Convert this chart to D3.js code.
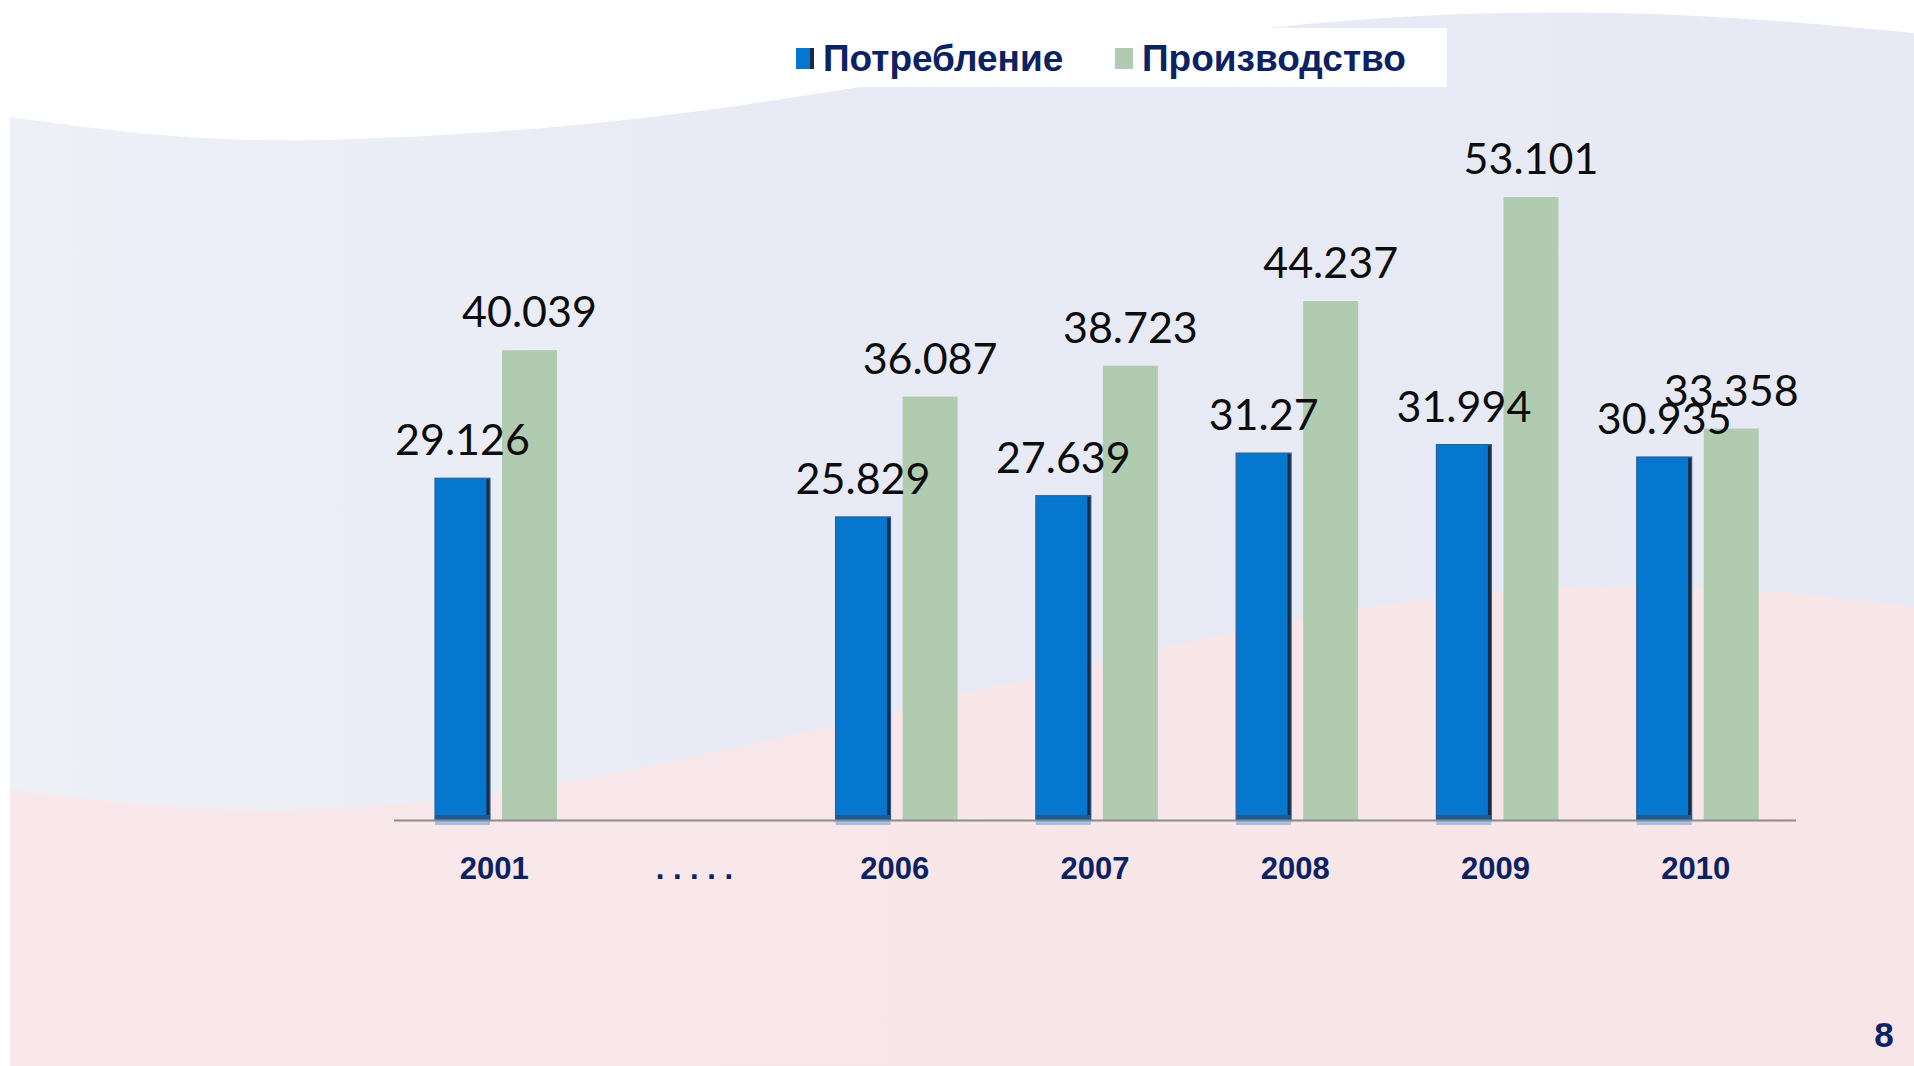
<!DOCTYPE html>
<html>
<head>
<meta charset="utf-8">
<script src="https://cdn.jsdelivr.net/npm/d3@7"></script>
<style>
  html, body { margin: 0; padding: 0; background: #ffffff; }
  svg { display: block; }
</style>
</head>
<body>
<div id="chart"></div>
<script>
// Data
const categories = ["2001", ". . . . .", "2006", "2007", "2008", "2009", "2010"];
const years = ["2001", "2006", "2007", "2008", "2009", "2010"];
const consumption = [29.126, 25.829, 27.639, 31.27, 31.994, 30.935];
const production = [40.039, 36.087, 38.723, 44.237, 53.101, 33.358];
const seriesNames = ["Потребление", "Производство"];
const pageNumber = "8";

const drawChart = () => {

  /*******************************/
  /*    Declare the constants    */
  /*******************************/
  const width = 1914;
  const height = 1066;
  const margin = {left: 394, right: 118, top: 116, bottom: 246};
  const baseline = height - margin.bottom;
  const blue = "#0677cf";
  const green = "#b0cbb0";
  const navy = "#0c2262";

  const svg = d3.select("#chart")
    .append("svg")
      .attr("width", width)
      .attr("height", height)
      .attr("viewBox", `0 0 ${width} ${height}`);

  /*******************************/
  /*    Decorative background    */
  /*******************************/
  const defs = svg.append("defs");
  const gradLav = defs.append("linearGradient").attr("id", "lav");
  gradLav.append("stop").attr("offset", "0%").attr("stop-color", "#eef0f8");
  gradLav.append("stop").attr("offset", "40%").attr("stop-color", "#e8ebf5");
  gradLav.append("stop").attr("offset", "100%").attr("stop-color", "#e7eaf4");
  const gradPink = defs.append("linearGradient").attr("id", "pink");
  gradPink.append("stop").attr("offset", "0%").attr("stop-color", "#f9e8eb");
  gradPink.append("stop").attr("offset", "100%").attr("stop-color", "#f7e5e8");

  const wave = d3.line().curve(d3.curveBasis);
  const topEdge = [[10, 117], [150, 136], [305, 144], [610, 126], [855, 88],
                   [1099, 48], [1343, 18], [1526, 11], [1709, 14], [1914, 33]];
  const pinkEdge = [[10, 790], [244, 817], [488, 799], [733, 750], [977, 690],
                    [1221, 634], [1404, 598], [1624, 582], [1770, 590], [1914, 607]];

  svg.append("path")
    .attr("d", wave(topEdge) + `L${width},${height}L10,${height}Z`)
    .attr("fill", "url(#lav)");

  svg.append("path")
    .attr("d", wave(pinkEdge) + `L${width},${height}L10,${height}Z`)
    .attr("fill", "url(#pink)");

  /****************************/
  /*    Declare the scales    */
  /****************************/
  const xScale = d3.scaleBand()
    .domain(categories)
    .range([margin.left, width - margin.right]);

  const xInner = d3.scaleBand()
    .domain(seriesNames)
    .range([41, 163])
    .paddingInner(0.18);

  const yScale = d3.scaleLinear()
    .domain([0, 60])
    .range([baseline, margin.top]);

  const rows = years.map((year, i) => ({
    year: year,
    values: [
      {series: seriesNames[0], value: consumption[i]},
      {series: seriesNames[1], value: production[i]}
    ]
  }));

  /****************************/
  /*      Append the bars     */
  /****************************/
  const groups = svg.selectAll(".year-group")
    .data(rows)
    .join("g")
      .attr("class", "year-group")
      .attr("transform", d => `translate(${xScale(d.year)}, 0)`);

  // Production bars (flat green)
  groups.append("rect")
    .attr("x", xInner(seriesNames[1]))
    .attr("y", d => yScale(d.values[1].value))
    .attr("width", xInner.bandwidth())
    .attr("height", d => baseline - yScale(d.values[1].value))
    .attr("fill", green);

  // Consumption bars (blue with dark bevel)
  const bw = xInner.bandwidth();
  const bx = xInner(seriesNames[0]);
  groups.append("rect")
    .attr("x", bx)
    .attr("y", d => yScale(d.values[0].value))
    .attr("width", bw)
    .attr("height", d => baseline - yScale(d.values[0].value))
    .attr("fill", blue)
    .attr("stroke", "#2f5f92")
    .attr("stroke-width", 1.2);

  groups.append("rect")
    .attr("x", bx + bw - 3.5)
    .attr("y", d => yScale(d.values[0].value) + 1)
    .attr("width", 3)
    .attr("height", d => baseline - yScale(d.values[0].value) - 1)
    .attr("fill", "#1b2c42");

  groups.append("rect")
    .attr("x", bx + 0.6)
    .attr("y", baseline - 5)
    .attr("width", bw - 1.2)
    .attr("height", 5)
    .attr("fill", "#1d5a96");

  groups.append("rect")
    .attr("x", bx)
    .attr("y", baseline + 1)
    .attr("width", bw)
    .attr("height", 4)
    .attr("fill", "#8db8e3")
    .attr("opacity", 0.8);

  // Axis line
  svg.append("line")
    .attr("x1", margin.left)
    .attr("x2", width - margin.right)
    .attr("y1", baseline + 0.5)
    .attr("y2", baseline + 0.5)
    .attr("stroke", "#8c8c8c")
    .attr("stroke-width", 2);

  /****************************/
  /*     Append the labels    */
  /****************************/
  groups.selectAll(".value-label")
    .data(d => d.values)
    .join("text")
      .attr("class", "value-label")
      .text(d => d.value)
      .attr("x", d => xInner(d.series) + bw / 2)
      .attr("y", d => yScale(d.value) - 23)
      .attr("text-anchor", "middle")
      .attr("fill", "#0d0d0d")
      .style("font-family", "Lato, 'Open Sans', sans-serif")
      .style("font-size", "43px");

  svg.selectAll(".category-label")
    .data(categories)
    .join("text")
      .attr("class", "category-label")
      .text(d => d)
      .attr("x", d => xScale(d) + xScale.bandwidth() / 2)
      .attr("y", baseline + 59)
      .attr("text-anchor", "middle")
      .attr("fill", navy)
      .style("font-family", "'Liberation Sans', Arial, sans-serif")
      .style("font-weight", "bold")
      .style("font-size", "31px");

  /****************************/
  /*     Append the legend    */
  /****************************/
  svg.append("rect")
    .attr("x", 736)
    .attr("y", 28)
    .attr("width", 711)
    .attr("height", 59)
    .attr("fill", "#ffffff");

  const legendX = [796, 1115];
  const legend = svg.selectAll(".legend-item")
    .data(seriesNames)
    .join("g")
      .attr("class", "legend-item")
      .attr("transform", (d, i) => `translate(${legendX[i]}, 48)`);

  legend.append("rect")
    .attr("width", 18)
    .attr("height", 21)
    .attr("fill", (d, i) => i === 0 ? blue : green);

  legend.filter((d, i) => i === 0)
    .append("rect")
      .attr("x", 14)
      .attr("width", 4)
      .attr("height", 21)
      .attr("fill", "#1b2c42");

  legend.append("text")
    .text(d => d)
    .attr("x", 27)
    .attr("y", 23)
    .attr("fill", navy)
    .style("font-family", "'Liberation Sans', Arial, sans-serif")
    .style("font-weight", "bold")
    .style("font-size", "37px");

  // Page number
  svg.append("text")
    .text(pageNumber)
    .attr("x", 1884)
    .attr("y", 1047)
    .attr("text-anchor", "middle")
    .attr("fill", navy)
    .style("font-family", "'Liberation Sans', Arial, sans-serif")
    .style("font-weight", "bold")
    .style("font-size", "35px");

};

drawChart();
</script>
</body>
</html>
